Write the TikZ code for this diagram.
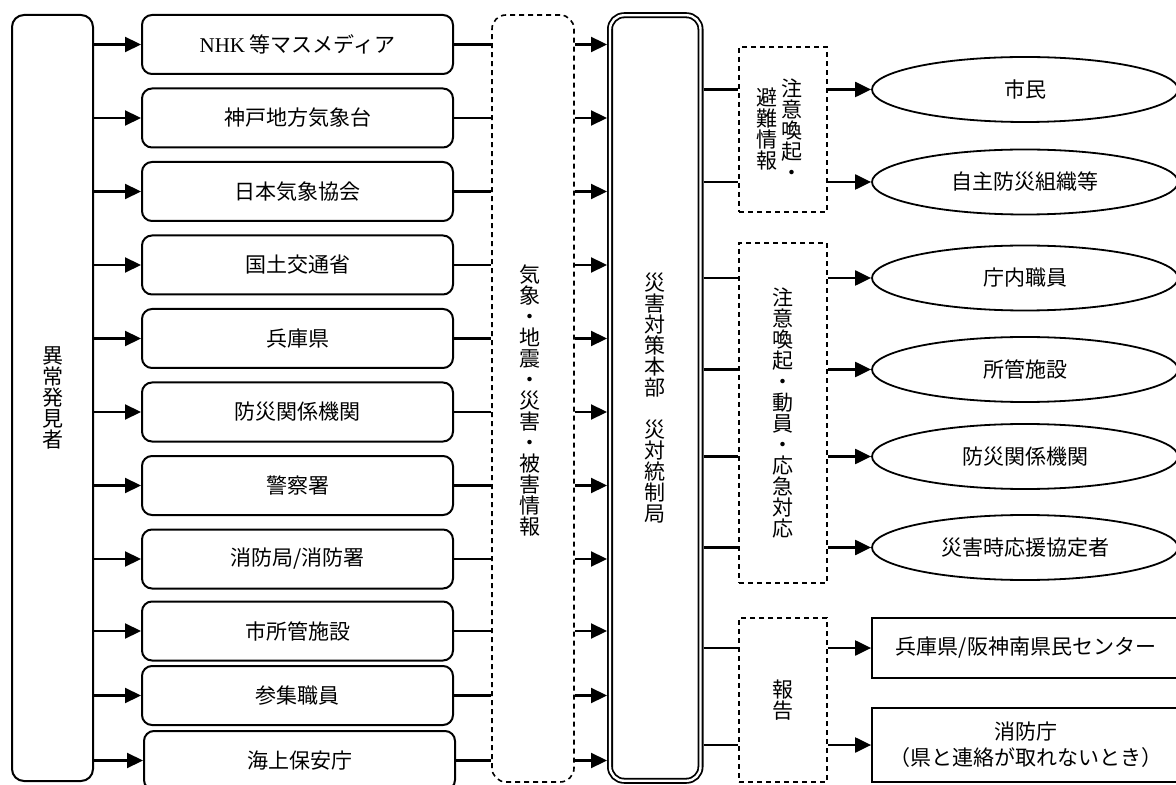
\documentclass[tikz,border=0pt]{standalone}
\usepackage{fontspec}
\setmainfont{Noto Sans CJK JP}
\newfontfamily\latinfont{Liberation Serif}
\usetikzlibrary{arrows.meta,shapes.geometric}

\begin{document}
\begin{tikzpicture}[x=0.5pt,y=-0.5pt,
    >={Triangle[length=8pt,width=7.5pt]},
    every node/.style={font=\fontsize{10.5}{11}\selectfont, inner sep=0pt},
    link/.style={line width=1.1pt},
    srcbox/.style={draw, line width=1pt, rounded corners=5pt, minimum width=155.5pt, minimum height=29.5pt},
    dashbox/.style={draw, dash pattern=on 2.5pt off 2pt, line width=0.8pt, minimum width=44pt},
    target/.style={draw, ellipse, line width=0.9pt, minimum width=153pt, minimum height=32.5pt},
    office/.style={draw, line width=0.9pt, minimum width=154pt, align=center,
                   font=\fontsize{10.5}{13}\selectfont},
    tate/.style={align=center, font=\fontsize{10.5}{10.5}\selectfont}]
  \useasboundingbox (0,0) rectangle (1176,785);

  % left column
  \node[draw, line width=1pt, rounded corners=6pt, minimum width=40.5pt, minimum height=383pt, tate]
    (finder) at (52.5,398) {異\\常\\発\\見\\者};

  \foreach \x/\y/\n/\t in {297.5/44.5/1/{{\latinfont NHK} 等マスメディア}, 297.5/118/2/神戸地方気象台,
      297.5/191.5/3/日本気象協会, 297.5/265/4/国土交通省, 297.5/338.5/5/兵庫県,
      297.5/412/6/防災関係機関, 297.5/485.5/7/警察署, 297.5/559/8/{消防局/消防署},
      297.5/631/9/市所管施設, 297.5/695.5/10/参集職員, 299.5/760.5/11/海上保安庁}
    \node[srcbox] (src\n) at (\x,\y) {\t};

  % middle
  \node[draw, dash pattern=on 2.5pt off 2pt, line width=0.8pt, rounded corners=7pt,
        minimum width=41pt, minimum height=383.5pt] (info) at (533,398.5) {};
  \node[tate] (infotext) at (530,401) {気\\象\\・\\地\\震\\・\\災\\害\\・\\被\\害\\情\\報};

  \node[draw, double, double distance=1.2pt, line width=0.9pt, rounded corners=7pt, outer sep=1.5pt,
        minimum width=45.25pt, minimum height=382.75pt, tate]
    (hq) at (655.25,398) {災\\害\\対\\策\\本\\部\\\\災\\対\\統\\制\\局};

  \foreach \n in {1,...,11} {
    \draw[link,->] (finder.east |- src\n.west) -- (src\n.west);
    \draw[link] (src\n.east) -- (info.west |- src\n.east);
    \draw[link,->] (info.east |- src\n.east) -- (hq.west |- src\n.east);
  }

  % right column
  \node[dashbox, minimum height=82.5pt] (alert) at (783,129.5) {};
  \node[tate] (alertA) at (792,129.5) {注\\意\\喚\\起\\・};
  \node[tate] (alertB) at (767,129.5) {避\\難\\情\\報};
  \node[dashbox, minimum height=170pt, tate] (mobil) at (783,413)
    {注\\意\\喚\\起\\・\\動\\員\\・\\応\\急\\対\\応};
  \node[dashbox, minimum height=82pt, tate] (report) at (783,700) {報\\告};

  \foreach \y/\n/\t in {89.5/citizen/市民, 182/jishu/自主防災組織等, 278/staff/庁内職員,
      369.5/facility/所管施設, 456.5/agency/防災関係機関, 547.5/partner/災害時応援協定者}
    \node[target] (\n) at (1025,\y) {\t};

  \node[office, minimum height=30pt] (pref) at (1026,648) {兵庫県/阪神南県民センター};
  \node[office, minimum height=37pt] (fdma) at (1026,745) {消防庁\\（県と連絡が取れないとき）};

  \foreach \a/\b in {alert/citizen, alert/jishu, mobil/staff, mobil/facility,
      mobil/agency, mobil/partner, report/pref, report/fdma} {
    \draw[link] (hq.east |- \b.west) -- (\a.west |- \b.west);
    \draw[link,->] (\a.east |- \b.west) -- (\b.west);
  }
\end{tikzpicture}
\end{document}
